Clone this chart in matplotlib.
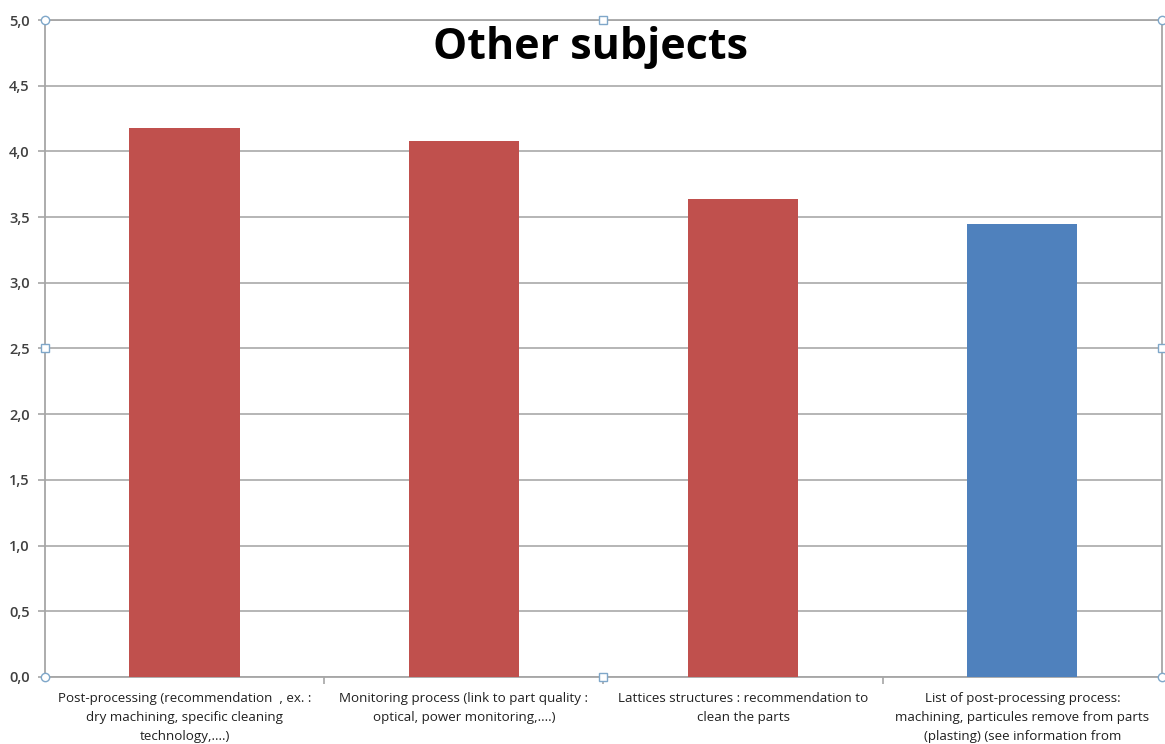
import numpy as np
import matplotlib.pyplot as plt

# scores per subject
subjects = [
    "Post-processing (recommendation  , ex. :\ndry machining, specific cleaning\ntechnology,....)",
    "Monitoring process (link to part quality :\noptical, power monitoring,....)",
    "Lattices structures : recommendation to\nclean the parts",
    "List of post-processing process:\nmachining, particules remove from parts\n(plasting) (see information from",
]
scores = [4.18, 4.08, 3.64, 3.45]
bar_colors = ["#C0504D", "#C0504D", "#C0504D", "#4F81BD"]
yticks = np.arange(0, 5.01, 0.5)

plt.rcParams['font.family'] = ['Open Sans', 'DejaVu Sans']

fig = plt.figure(figsize=(11.65, 7.44), dpi=100)
ax = fig.add_axes([0.0386, 0.0901, 0.9588, 0.8830])

x = np.arange(len(scores))
ax.bar(x, scores, width=0.395, color=bar_colors, zorder=3)

ax.set_xlim(-0.5, len(scores) - 0.5)
ax.set_ylim(0, 5)
ax.set_yticks(yticks)
ax.set_yticklabels([f"{v:.1f}".replace(".", ",") for v in yticks],
                   fontsize=10.5, color="#404040", fontweight="semibold")
ax.yaxis.grid(True, color="#b0b0b0", lw=1.3, zorder=0)
ax.tick_params(axis="y", length=5, width=1.2, color="#a6a6a6", pad=6)

ax.set_xticks(x)
ax.set_xticklabels(subjects, fontsize=9.6, color="#202020", linespacing=1.6)
ax.set_xticks(np.arange(0.5, len(scores) - 0.5), minor=True)
ax.tick_params(axis="x", which="major", length=0, pad=11)
ax.tick_params(axis="x", which="minor", length=5, width=1.2, color="#a6a6a6")

for side in ["left", "bottom", "right", "top"]:
    ax.spines[side].set_color("#a6a6a6")
    ax.spines[side].set_linewidth(1.3)

# selection handles on the plot area frame
for hx, hy, m in [(0, 0, "o"), (0, 1, "o"), (1, 0, "o"), (1, 1, "o"),
                  (0.5, 1, "s"), (0.5, 0, "s"), (0, 0.5, "s"), (1, 0.5, "s")]:
    ax.plot(hx, hy, m, transform=ax.transAxes, ms=6, mfc="white",
            mec="#7fa7c9", mew=1, clip_on=False, zorder=5)

fig.text(0.507, 0.936, "Other subjects", ha="center", va="center",
         fontsize=31, fontweight="bold", color="black")

fig.savefig("out.png", dpi=100)
